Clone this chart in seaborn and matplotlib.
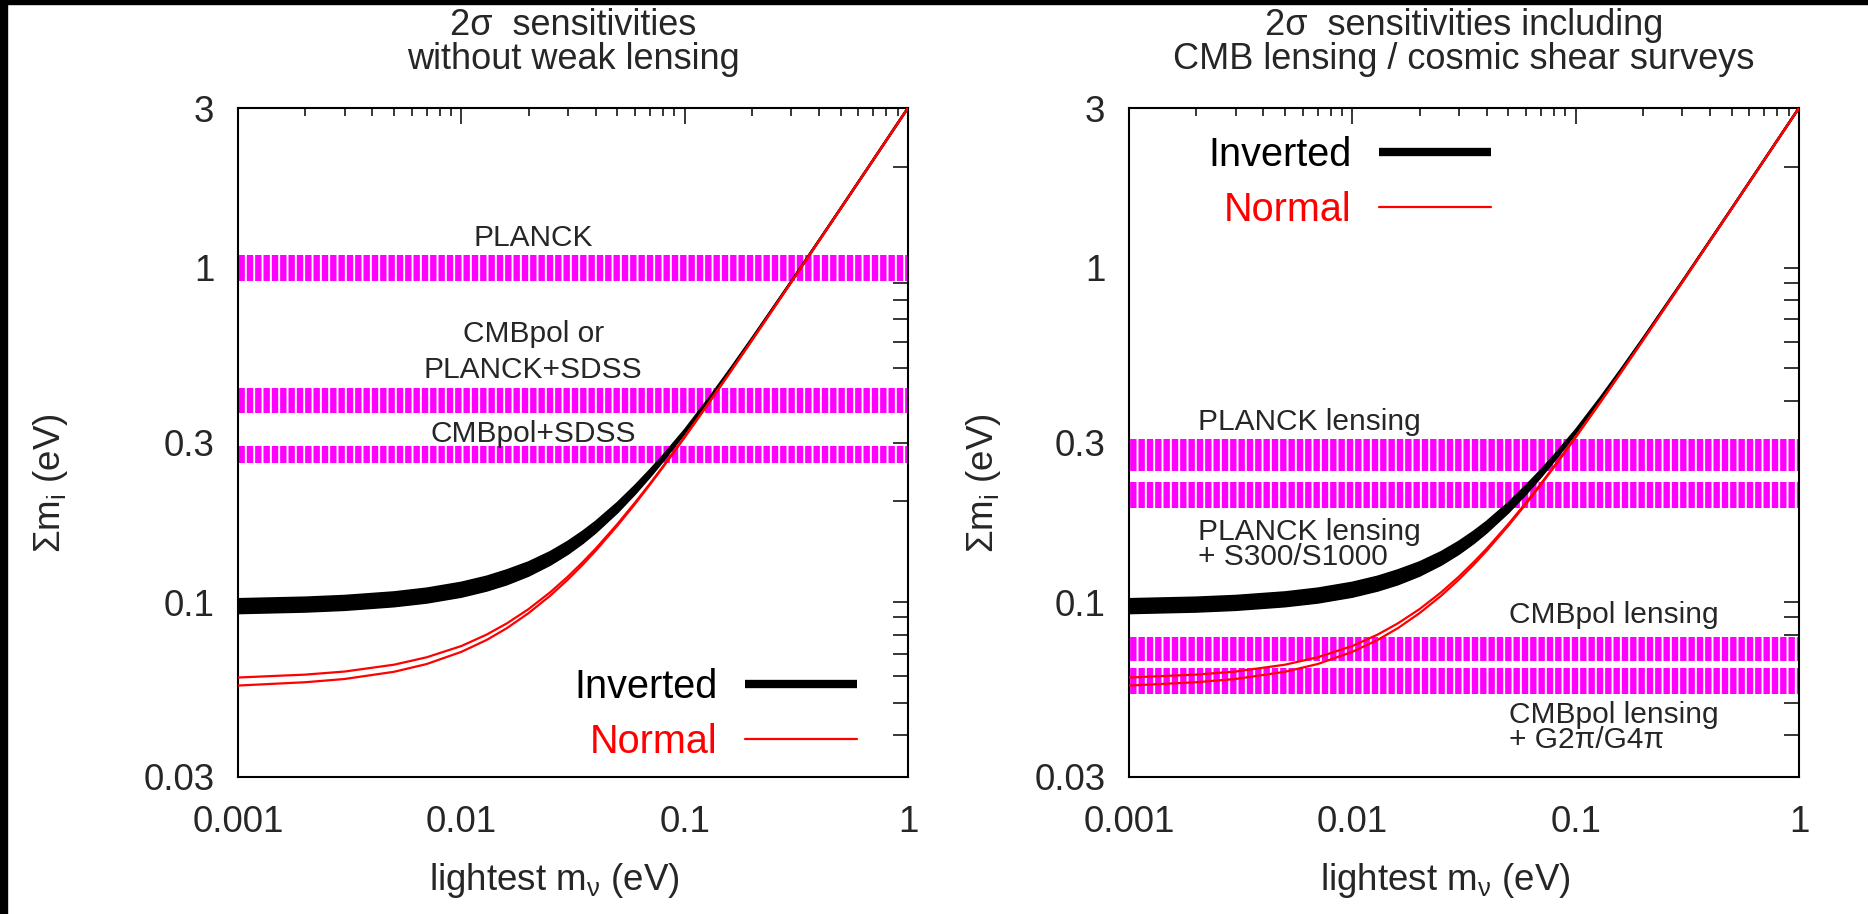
import numpy as np
import pandas as pd
import matplotlib
matplotlib.use("Agg")
import matplotlib.pyplot as plt
import seaborn as sns
from matplotlib.lines import Line2D
from matplotlib.patches import Rectangle
from matplotlib.ticker import FixedLocator, NullFormatter, FixedFormatter

# ---------------- data ----------------
m_light = [0.001, 0.002, 0.003, 0.005, 0.007, 0.01, 0.013, 0.016, 0.02, 0.025,
           0.03, 0.035, 0.04, 0.05, 0.06, 0.07, 0.08, 0.1, 0.13, 0.16, 0.2,
           0.3, 0.5, 0.7, 1.0]
inverted_lo = [0.0927, 0.0937, 0.0948, 0.0972, 0.0997, 0.1038, 0.1083, 0.1131,
               0.1200, 0.1294, 0.1395, 0.1503, 0.1617, 0.1856, 0.2110, 0.2373,
               0.2644, 0.3200, 0.4057, 0.4929, 0.6103, 0.9070, 1.504, 2.103,
               3.002]
inverted_hi = [0.1020, 0.1031, 0.1043, 0.1069, 0.1097, 0.1142, 0.1191, 0.1244,
               0.1314, 0.1410, 0.1514, 0.1624, 0.1738, 0.1977, 0.2226, 0.2480,
               0.2736, 0.3264, 0.4105, 0.4968, 0.6134, 0.9088, 1.5055, 2.104,
               3.003]
normal_lo = [0.0563, 0.0576, 0.0589, 0.0619, 0.0653, 0.0710, 0.0771, 0.0836,
             0.0927, 0.1045, 0.1168, 0.1295, 0.1425, 0.1693, 0.1967, 0.2248,
             0.2532, 0.3108, 0.3985, 0.4870, 0.6056, 0.9038, 1.5023, 2.1016,
             3.0011]
normal_hi = [0.0595, 0.0607, 0.0620, 0.0650, 0.0684, 0.0739, 0.0800, 0.0864,
             0.0953, 0.1070, 0.1192, 0.1318, 0.1446, 0.1712, 0.1985, 0.2263,
             0.2546, 0.3120, 0.3994, 0.4877, 0.6062, 0.9042, 1.5025, 2.1018,
             3.0013]

band_x = [0.001, 1.0]
left_band_names = ["PLANCK", "CMBpol or PLANCK+SDSS", "CMBpol+SDSS"]
left_band_lo = [0.912, 0.367, 0.260]
left_band_hi = [1.090, 0.436, 0.293]
right_band_names = ["PLANCK lensing", "PLANCK lensing + S300/S1000",
                    "CMBpol lensing", "CMBpol lensing + G2π/G4π"]
right_band_lo = [0.247, 0.1915, 0.0668, 0.0531]
right_band_hi = [0.307, 0.2289, 0.0788, 0.0634]

x_ticks = [0.001, 0.01, 0.1, 1]
x_ticklabels = ["0.001", "0.01", "0.1", "1"]
y_ticks = [0.03, 0.1, 0.3, 1, 3]
y_ticklabels = ["0.03", "0.1", "0.3", "1", "3"]

titles = ["2σ  sensitivities\nwithout weak lensing",
          "2σ  sensitivities including\nCMB lensing / cosmic shear surveys"]
legend_labels = ["Inverted", "Normal"]

# ---------------- style ----------------
sns.set_theme(style="white")
plt.rcParams["font.family"] = ["Liberation Sans", "DejaVu Sans"]
plt.rcParams["mathtext.fontset"] = "custom"
plt.rcParams["mathtext.rm"] = "Liberation Sans"
plt.rcParams["mathtext.it"] = "Liberation Sans"
plt.rcParams["mathtext.bf"] = "Liberation Sans"
plt.rcParams["hatch.linewidth"] = 1.4

MAGENTA = "#ff00ff"
TICK_FS = 26.5
LEG_FS = 28.5
ANN_FS = 21.5

curves = pd.DataFrame({
    "m": m_light * 4,
    "sum": inverted_lo + inverted_hi + normal_lo + normal_hi,
    "curve": (["inv_lo"] * len(m_light) + ["inv_hi"] * len(m_light)
              + ["nor_lo"] * len(m_light) + ["nor_hi"] * len(m_light)),
})

fig = plt.figure(figsize=(18.68, 9.14), dpi=100)
fig.patch.set_facecolor("white")
W, H = 1868.0, 914.0
ax1 = fig.add_axes([238 / W, 1 - 777 / H, 670 / W, 669 / H])
ax2 = fig.add_axes([1129 / W, 1 - 777 / H, 670 / W, 669 / H])

# black frame strips at the top and left edge of the image
fig.patches.append(Rectangle((0, 1 - 4 / H), 1, 4 / H, transform=fig.transFigure,
                             color="black", zorder=10))
fig.patches.append(Rectangle((0, 0), 7 / W, 1, transform=fig.transFigure,
                             color="black", zorder=10))


def draw_bands(ax, los, his):
    for lo, hi in zip(los, his):
        ax.fill_between(band_x, [lo, lo], [hi, hi], facecolor=MAGENTA,
                        edgecolor="white", hatch="||", linewidth=0, zorder=1)


def draw_curves(ax):
    ax.fill_between(m_light, inverted_lo, inverted_hi, color="black",
                    linewidth=0, zorder=3)
    inv = curves[curves["curve"].str.startswith("inv")]
    sns.lineplot(data=inv, x="m", y="sum", units="curve", estimator=None,
                 color="black", linewidth=1.8, ax=ax, zorder=3, legend=False)
    nor = curves[curves["curve"].str.startswith("nor")]
    sns.lineplot(data=nor, x="m", y="sum", units="curve", estimator=None,
                 color="red", linewidth=1.6, ax=ax, zorder=4, legend=False)


def style_axes(ax, title, ylab_x):
    ax.set_xscale("log")
    ax.set_yscale("log")
    ax.set_xlim(0.001, 1)
    ax.set_ylim(0.03, 3)
    ax.xaxis.set_major_locator(FixedLocator(x_ticks))
    ax.xaxis.set_major_formatter(FixedFormatter(x_ticklabels))
    xminor = [k * 10.0 ** e for e in (-3, -2, -1) for k in range(2, 10)]
    ax.xaxis.set_minor_locator(FixedLocator(xminor))
    ax.xaxis.set_minor_formatter(NullFormatter())
    ax.yaxis.set_major_locator(FixedLocator(y_ticks))
    ax.yaxis.set_major_formatter(FixedFormatter(y_ticklabels))
    yminor = [v for v in [k * 10.0 ** e for e in (-2, -1, 0) for k in range(1, 10)]
              if 0.03 < v < 3 and min(abs(v - t) for t in y_ticks) > 1e-9]
    ax.yaxis.set_minor_locator(FixedLocator(yminor))
    ax.yaxis.set_minor_formatter(NullFormatter())
    ax.tick_params(axis="both", which="both", direction="in", top=True,
                   right=True, width=1.1, color="black")
    ax.tick_params(axis="x", which="major", length=11.5, pad=20,
                   labelsize=TICK_FS)
    ax.tick_params(axis="x", which="minor", length=5.5)
    ax.tick_params(axis="y", which="major", length=11, pad=17,
                   labelsize=TICK_FS)
    ax.tick_params(axis="y", which="minor", length=11)
    for sp in ax.spines.values():
        sp.set_linewidth(1.5)
        sp.set_color("black")
    ax.set_xlabel("lightest m$_{\\nu}$ (eV)", fontsize=TICK_FS)
    ax.set_ylabel("Σm$_{\\rm i}$ (eV)", fontsize=TICK_FS)
    ax.xaxis.set_label_coords(0.473, -0.126)
    ax.yaxis.set_label_coords(ylab_x, 0.44)
    ax.set_title(title, fontsize=26, pad=28, linespacing=0.95)
    ax.set_facecolor("white")


def draw_legend(ax, **kw):
    handles = [Line2D([0], [0], color="black", linewidth=6, solid_capstyle="butt"),
               Line2D([0], [0], color="red", linewidth=1.6)]
    ax.legend(handles, legend_labels, markerfirst=False, frameon=False,
              fontsize=LEG_FS, handlelength=2.83, handletextpad=0.7,
              labelspacing=0.42, borderpad=0, borderaxespad=0,
              labelcolor=["black", "red"], **kw)


# ---------------- left panel ----------------
draw_bands(ax1, left_band_lo, left_band_hi)
draw_curves(ax1)
style_axes(ax1, titles[0], -0.25)
ax1.text(0.021, 1.16, "PLANCK", fontsize=ANN_FS, ha="center", va="baseline")
ax1.text(0.021, 0.600, "CMBpol or", fontsize=ANN_FS, ha="center", va="baseline")
ax1.text(0.021, 0.4677, "PLANCK+SDSS", fontsize=ANN_FS, ha="center", va="baseline")
ax1.text(0.021, 0.3005, "CMBpol+SDSS", fontsize=ANN_FS, ha="center", va="baseline")
draw_legend(ax1, loc="lower right", bbox_to_anchor=(0.924, 0.024))

# ---------------- right panel ----------------
draw_bands(ax2, right_band_lo, right_band_hi)
draw_curves(ax2)
style_axes(ax2, titles[1], -0.188)
ax2.text(0.00204, 0.327, "PLANCK lensing", fontsize=ANN_FS, ha="left", va="baseline")
ax2.text(0.00204, 0.1534, "PLANCK lensing", fontsize=ANN_FS, ha="left", va="baseline")
ax2.text(0.00204, 0.1291, "+ S300/S1000", fontsize=ANN_FS, ha="left", va="baseline")
ax2.text(0.0502, 0.0864, "CMBpol lensing", fontsize=ANN_FS, ha="left", va="baseline")
ax2.text(0.0502, 0.0436, "CMBpol lensing", fontsize=ANN_FS, ha="left", va="baseline")
ax2.text(0.0502, 0.03655, "+ G2π/G4π", fontsize=ANN_FS, ha="left", va="baseline")
draw_legend(ax2, loc="upper right", bbox_to_anchor=(0.541, 0.958))

fig.savefig("out.png", dpi=100, facecolor="white")
